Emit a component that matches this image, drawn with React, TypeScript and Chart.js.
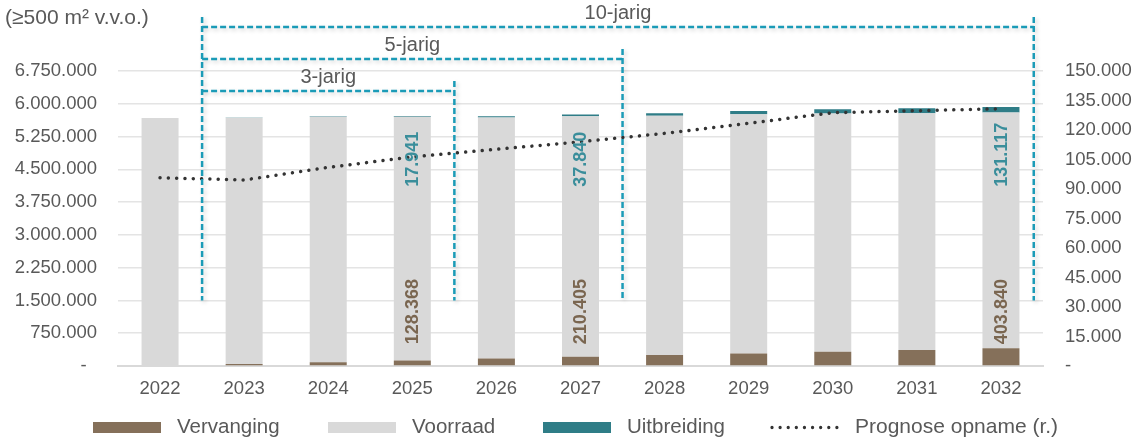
import { useEffect, useRef } from 'react';
import { Chart, registerables } from 'chart.js';

Chart.register(...registerables);

const years = ['2022', '2023', '2024', '2025', '2026', '2027', '2028', '2029', '2030', '2031', '2032'];
const vervanging = [0, 43000, 86000, 128368, 169000, 210405, 249000, 288000, 327000, 365000, 403840];
const voorraad = [5677000, 5637000, 5618000, 5574000, 5519000, 5507000, 5477000, 5471000, 5452000, 5420000, 5394000];
const uitbreiding = [0, 6000, 12000, 17941, 28000, 37840, 56000, 75000, 94000, 112000, 131117];
const prognose = [95700, 94600, 101000, 106300, 110200, 114000, 118300, 123400, 128800, 129800, 130800];

const labelledIdx = [3, 5, 10];
const vervLabelAnchor = 500000;
const uitbLabelAnchor = 4100000;

const leftMax = 6750000;
const leftStep = 750000;
const rightMax = 150000;
const rightStep = 15000;
const bracketBottom = 1500000;

const brackets = [
  { label: '10-jarig', from: 0.5, to: 10.39, level: 0 },
  { label: '5-jarig', from: 0.5, to: 5.5, level: 1 },
  { label: '3-jarig', from: 0.5, to: 3.5, level: 2 },
];

const axisTitle = '(≥500 m² v.v.o.)';

const C_BROWN = '#85705A';
const C_GRAY = '#D9D9D9';
const C_TEAL = '#2F7D87';
const C_LINE = '#333333';
const C_DASH = '#1B9BB7';
const C_TEXT = '#595959';
const FONT = "'Liberation Sans', Arial, sans-serif";

const fmt = (v: number) =>
  v === 0 ? '-' : Math.round(v).toString().replace(/\B(?=(\d{3})+(?!\d))/g, '.');

const overlay = {
  id: 'overlay',
  afterDatasetsDraw(chart: any) {
    const ctx = chart.ctx;
    const x = chart.scales.x;
    const y = chart.scales.y;
    const area = chart.chartArea;
    ctx.save();
    // bar labels
    ctx.font = `bold 18px ${FONT}`;
    ctx.textBaseline = 'middle';
    ctx.textAlign = 'left';
    labelledIdx.forEach((i) => {
      const px = x.getPixelForValue(i);
      ctx.save();
      ctx.translate(px, y.getPixelForValue(vervLabelAnchor));
      ctx.rotate(-Math.PI / 2);
      ctx.fillStyle = '#7A6650';
      ctx.fillText(fmt(vervanging[i]), 0, 1);
      ctx.restore();
      ctx.save();
      ctx.translate(px, y.getPixelForValue(uitbLabelAnchor));
      ctx.rotate(-Math.PI / 2);
      ctx.fillStyle = '#3A8E9B';
      ctx.fillText(fmt(uitbreiding[i]), 0, 1);
      ctx.restore();
    });

    // brackets
    const bottomY = y.getPixelForValue(bracketBottom);
    const levelY = (lvl: number) => area.top - 44 + lvl * 32;
    ctx.strokeStyle = C_DASH;
    ctx.lineWidth = 2.5;
    ctx.setLineDash([6, 3]);
    ctx.shadowColor = 'rgba(0,0,0,0.18)';
    ctx.shadowBlur = 4;
    ctx.shadowOffsetX = 2;
    ctx.shadowOffsetY = 2;
    const leftX = x.getPixelForValue(brackets[0].from);
    const topMost = Math.min(...brackets.map((b) => levelY(b.level))) - 10;
    ctx.beginPath();
    ctx.moveTo(leftX, topMost);
    ctx.lineTo(leftX, bottomY);
    ctx.stroke();
    brackets.forEach((b) => {
      const hy = levelY(b.level);
      const x1 = x.getPixelForValue(b.from);
      const x2 = x.getPixelForValue(b.to);
      ctx.beginPath();
      ctx.moveTo(x1, hy);
      ctx.lineTo(x2, hy);
      ctx.stroke();
      ctx.beginPath();
      ctx.moveTo(x2, hy - 10);
      ctx.lineTo(x2, bottomY);
      ctx.stroke();
    });
    ctx.setLineDash([]);
    ctx.shadowColor = 'transparent';
    ctx.font = `20px ${FONT}`;
    ctx.fillStyle = C_TEXT;
    ctx.textAlign = 'center';
    ctx.textBaseline = 'middle';
    brackets.forEach((b) => {
      const hy = levelY(b.level);
      const x1 = x.getPixelForValue(b.from);
      const x2 = x.getPixelForValue(b.to);
      ctx.fillText(b.label, (x1 + x2) / 2, hy - 14);
    });

    // axis title
    ctx.textAlign = 'left';
    ctx.font = `21px ${FONT}`;
    ctx.fillText(axisTitle, 5, 18);

    // legend
    const ly = 427.5;
    const items = [
      { label: 'Vervanging', color: C_BROWN, x: 93, kind: 'box' },
      { label: 'Voorraad', color: C_GRAY, x: 328, kind: 'box' },
      { label: 'Uitbreiding', color: C_TEAL, x: 543, kind: 'box' },
      { label: 'Prognose opname (r.)', color: C_LINE, x: 772, kind: 'line' },
    ];
    ctx.font = `20.5px ${FONT}`;
    items.forEach((it) => {
      if (it.kind === 'box') {
        ctx.fillStyle = it.color;
        ctx.fillRect(it.x, ly - 5.5, 68, 11);
        ctx.fillStyle = C_TEXT;
        ctx.fillText(it.label, it.x + 84, ly);
      } else {
        ctx.strokeStyle = it.color;
        ctx.lineWidth = 3.3;
        ctx.lineCap = 'round';
        ctx.setLineDash([0.01, 8.1]);
        ctx.beginPath();
        ctx.moveTo(it.x, ly);
        ctx.lineTo(it.x + 66, ly);
        ctx.stroke();
        ctx.setLineDash([]);
        ctx.fillStyle = C_TEXT;
        ctx.font = `21px ${FONT}`;
        ctx.fillText(it.label, it.x + 83, ly);
      }
    });
    ctx.restore();
  },
};

export default function App() {
  const ref = useRef<HTMLCanvasElement | null>(null);
  useEffect(() => {
    if (!ref.current) return;
    Chart.defaults.font.family = FONT;
    const chart = new Chart(ref.current, {
      type: 'bar',
      data: {
        labels: years,
        datasets: [
          {
            type: 'line',
            label: 'Prognose opname (r.)',
            data: prognose,
            yAxisID: 'y1',
            borderColor: C_LINE,
            borderWidth: 3.5,
            borderDash: [0.01, 8.3],
            borderCapStyle: 'round',
            pointRadius: 0,
            fill: false,
            tension: 0,
            order: 0,
          } as any,
          {
            label: 'Vervanging',
            data: vervanging,
            backgroundColor: C_BROWN,
            yAxisID: 'y',
            stack: 's',
            order: 1,
          },
          {
            label: 'Voorraad',
            data: voorraad,
            backgroundColor: C_GRAY,
            yAxisID: 'y',
            stack: 's',
            order: 1,
          },
          {
            label: 'Uitbreiding',
            data: uitbreiding,
            backgroundColor: C_TEAL,
            yAxisID: 'y',
            stack: 's',
            order: 1,
          },
        ],
      },
      options: {
        responsive: false,
        animation: false,
        events: [],
        layout: { padding: { top: 71, bottom: 43, left: 0, right: 0 } },
        datasets: { bar: { barPercentage: 0.44, categoryPercentage: 1 } },
        plugins: { legend: { display: false }, tooltip: { enabled: false }, title: { display: false } },
        scales: {
          x: {
            stacked: true,
            grid: { display: false, drawTicks: false },
            border: { display: true, color: '#D9D9D9', width: 2 },
            ticks: { color: C_TEXT, font: { size: 18.5 }, padding: 12, maxRotation: 0 },
            afterFit: (s: any) => { s.height = 30; },
          },
          y: {
            stacked: true,
            position: 'left',
            min: 0,
            max: leftMax,
            grid: { color: '#E4E4E4', lineWidth: 1.5, drawTicks: false },
            border: { display: false },
            ticks: {
              stepSize: leftStep,
              color: C_TEXT,
              font: { size: 18.5 },
              padding: 21,
              callback: (v: any) => (v === 0 ? '-  ' : fmt(v)),
            },
            afterFit: (s: any) => { s.width = 118; },
          },
          y1: {
            position: 'right',
            min: 0,
            max: rightMax,
            grid: { display: false, drawTicks: false },
            border: { display: false },
            ticks: {
              stepSize: rightStep,
              color: C_TEXT,
              font: { size: 18.5 },
              padding: 22,
              callback: (v: any) => fmt(v),
            },
            afterFit: (s: any) => { s.width = 94; },
          },
        },
      },
      plugins: [overlay],
    });
    return () => chart.destroy();
  }, []);
  return (
    <div style={{ position: 'fixed', left: 0, top: 0, width: 1137, height: 439, background: '#fff' }}>
      <canvas ref={ref} width={1137} height={439} style={{ width: 1137, height: 439 }} />
    </div>
  );
}
